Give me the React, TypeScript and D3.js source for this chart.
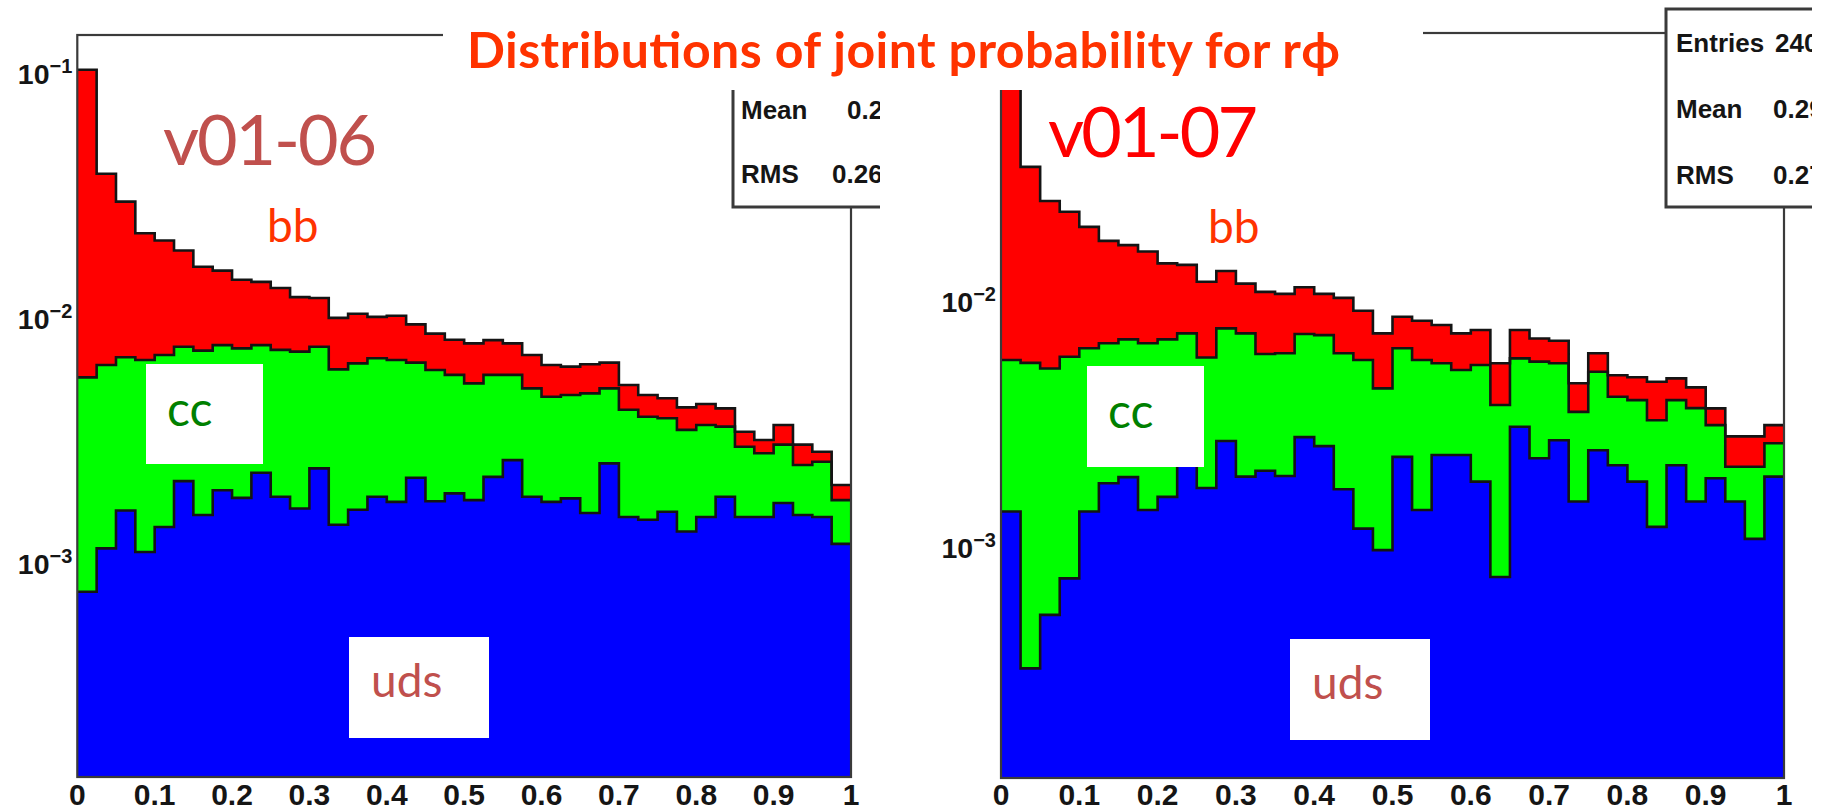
import React from "react";
import * as d3 from "d3";

const NBINS = 40;

// x axis ticks
const xTickValues = [0, 0.1, 0.2, 0.3, 0.4, 0.5, 0.6, 0.7, 0.8, 0.9, 1];
const xTickLabels = ["0", "0.1", "0.2", "0.3", "0.4", "0.5", "0.6", "0.7", "0.8", "0.9", "1"];

// y axis ticks (powers of ten) per panel
const leftYTickExps = [-1, -2, -3];
const rightYTickExps = [-2, -3];

// ---- v01-06 (left): stacked levels ----
// uds only
const leftUds = [0.000778, 0.00117, 0.00167, 0.00113, 0.00143, 0.0022, 0.0016, 0.00202, 0.00188, 0.00238,
  0.0019, 0.0017, 0.00248, 0.00146, 0.00168, 0.0019, 0.00181, 0.00227, 0.00182, 0.00196,
  0.00184, 0.00229, 0.00268, 0.0019, 0.00181, 0.00187, 0.00163, 0.0026, 0.00157, 0.00153,
  0.00165, 0.00137, 0.00157, 0.0019, 0.00157, 0.00157, 0.00179, 0.0016, 0.00157, 0.00122];
// uds + cc
const leftUdsCc = [0.00583, 0.00655, 0.00705, 0.00687, 0.0072, 0.00778, 0.0075, 0.0079, 0.00766, 0.0079,
  0.00755, 0.00743, 0.00778, 0.00629, 0.00665, 0.00698, 0.00687, 0.0067, 0.00625, 0.00597,
  0.00551, 0.00597, 0.00597, 0.00526, 0.00486, 0.00494, 0.00502, 0.00526, 0.0043, 0.00403,
  0.00397, 0.00356, 0.00373, 0.00367, 0.00304, 0.00286, 0.0031, 0.00256, 0.00264, 0.00184];
// uds + cc + bb
const leftAll = [0.105, 0.0395, 0.0304, 0.0226, 0.0211, 0.0192, 0.0165, 0.0159, 0.0146, 0.0143,
  0.0135, 0.0124, 0.0123, 0.0102, 0.0106, 0.0103, 0.0104, 0.0096, 0.0088, 0.0083,
  0.00803, 0.00828, 0.00803, 0.0072, 0.00655, 0.00645, 0.0066, 0.0067, 0.00543, 0.00494,
  0.00479, 0.0044, 0.00454, 0.00436, 0.0035, 0.00324, 0.00373, 0.0031, 0.0029, 0.00212];

// ---- v01-07 (right): stacked levels ----
const rightUds = [0.00142, 0.000327, 0.00054, 0.00076, 0.00142, 0.00185, 0.00196, 0.00144, 0.00163, 0.00226,
  0.00177, 0.00275, 0.00197, 0.00208, 0.00198, 0.00285, 0.00262, 0.00175, 0.00121, 0.00099,
  0.00237, 0.00144, 0.00241, 0.00241, 0.00188, 0.00077, 0.00314, 0.00234, 0.00277, 0.00156,
  0.00252, 0.00219, 0.00188, 0.00123, 0.00219, 0.00156, 0.00194, 0.00156, 0.0011, 0.00197];
const rightUdsCc = [0.00587, 0.00571, 0.00542, 0.00605, 0.00655, 0.00686, 0.00712, 0.00686, 0.00712, 0.00753,
  0.00601, 0.00789, 0.00753, 0.00621, 0.00625, 0.00749, 0.00741, 0.00625, 0.00587, 0.0045,
  0.00655, 0.00587, 0.00569, 0.00534, 0.0056, 0.00385, 0.00596, 0.00578, 0.00569, 0.00361,
  0.00526, 0.00416, 0.00403, 0.00334, 0.00403, 0.00374, 0.00319, 0.00216, 0.00216, 0.00269];
const rightAll = [0.1, 0.0358, 0.026, 0.0235, 0.0204, 0.0179, 0.0172, 0.0162, 0.0145, 0.0143,
  0.0122, 0.0135, 0.012, 0.0111, 0.0109, 0.0116, 0.0109, 0.0105, 0.0093, 0.00753,
  0.0088, 0.00847, 0.00814, 0.00753, 0.00777, 0.00569, 0.00777, 0.00718, 0.00703, 0.00472,
  0.00625, 0.00509, 0.00499, 0.00479, 0.00494, 0.00454, 0.00373, 0.00287, 0.00287, 0.00319];

// stat box texts
const leftStatNames = ["Mean", "RMS"];
const leftStatValues = ["0.2", "0.26"];
const rightStatNames = ["Entries", "Mean", "RMS"];
const rightStatValues = ["240", "0.29", "0.27"];

const TITLE = "Distributions of joint probability for r\u03D5";

const COLORS = { bb: "#ff0000", cc: "#00ff00", uds: "#0000ff" };
const ANNOT_FONT = "Lato, 'Open Sans', 'Noto Sans', sans-serif";
const AXIS_FONT = "'Liberation Sans', Arial, Helvetica, sans-serif";

type PanelCfg = {
  id: string;
  x0: number; x1: number; yTop: number; yBottom: number;
  logMin: number; logMax: number;
  uds: number[]; udsCc: number[]; all: number[];
  yExps: number[];
};

const panels: PanelCfg[] = [
  { id: "L", x0: 77.3, x1: 851, yTop: 35, yBottom: 777, logMin: -3.865, logMax: -0.837,
    uds: leftUds, udsCc: leftUdsCc, all: leftAll, yExps: leftYTickExps },
  { id: "R", x0: 1001, x1: 1784, yTop: 33, yBottom: 778, logMin: -3.931, logMax: -0.902,
    uds: rightUds, udsCc: rightUdsCc, all: rightAll, yExps: rightYTickExps },
];

function Panel({ p }: { p: PanelCfg }) {
  const x = d3.scaleLinear().domain([0, 1]).range([p.x0, p.x1]);
  const y = d3.scaleLog().domain([Math.pow(10, p.logMin), Math.pow(10, p.logMax)]).range([p.yBottom, p.yTop]);
  const toPts = (vals: number[]) => {
    const pts: [number, number][] = vals.map((v, i) => [i / NBINS, v]);
    pts.push([1, vals[vals.length - 1]]);
    return pts;
  };
  const area = d3.area<[number, number]>()
    .x((d) => x(d[0]))
    .y0(p.yBottom)
    .y1((d) => y(d[1]))
    .curve(d3.curveStepAfter);
  const line = d3.line<[number, number]>()
    .x((d) => x(d[0]))
    .y((d) => y(d[1]))
    .curve(d3.curveStepAfter);
  const layers = [
    { vals: p.all, color: COLORS.bb },
    { vals: p.udsCc, color: COLORS.cc },
    { vals: p.uds, color: COLORS.uds },
  ];
  const clipId = `clip${p.id}`;
  return (
    <g>
      <defs>
        <clipPath id={clipId}>
          <rect x={p.x0} y={p.yTop} width={p.x1 - p.x0} height={p.yBottom - p.yTop} />
        </clipPath>
      </defs>
      <g clipPath={`url(#${clipId})`}>
        {layers.map((l, i) => (
          <path key={"a" + i} d={area(toPts(l.vals)) || ""} fill={l.color} stroke="none" />
        ))}
        {layers.map((l, i) => (
          <path key={"l" + i} d={line(toPts(l.vals)) || ""} fill="none" stroke="#141414" strokeWidth={2.6} />
        ))}
      </g>
      <rect x={p.x0} y={p.yTop} width={p.x1 - p.x0} height={p.yBottom - p.yTop}
        fill="none" stroke="#3a3a3a" strokeWidth={2.2} />
      {xTickValues.map((t, i) => (
        <text key={"xt" + i} x={x(t)} y={805} textAnchor="middle" fontFamily={AXIS_FONT}
          fontWeight="bold" fontSize={30} fill="#151515">{xTickLabels[i]}</text>
      ))}
      {p.yExps.map((e) => (
        <text key={"yt" + e} x={p.x0 - 5} y={y(Math.pow(10, e)) + 9} textAnchor="end"
          fontFamily={AXIS_FONT} fontWeight="bold" fontSize={28.5} fill="#151515">
          10<tspan dy={-11} fontSize={20}>{"\u2212" + Math.abs(e)}</tspan>
        </text>
      ))}
    </g>
  );
}

function StatBox({ x, y, w, h, clipRight, names, values, rowYs, nameX, valueXs, id }:
  { x: number; y: number; w: number; h: number; clipRight: number; names: string[]; values: string[];
    rowYs: number[]; nameX: number; valueXs: number[]; id: string }) {
  return (
    <g>
      <defs>
        <clipPath id={id}>
          <rect x={0} y={0} width={clipRight} height={811} />
        </clipPath>
      </defs>
      <g clipPath={`url(#${id})`}>
        <rect x={x} y={y} width={w} height={h} fill="#ffffff" stroke="#3a3a3a" strokeWidth={3} />
        {names.map((n, i) => (
          <g key={i}>
            <text x={nameX} y={rowYs[i]} fontFamily={AXIS_FONT} fontWeight="bold" fontSize={26} fill="#151515">{n}</text>
            <text x={valueXs[i]} y={rowYs[i]} fontFamily={AXIS_FONT} fontWeight="bold" fontSize={26} fill="#151515">{values[i]}</text>
          </g>
        ))}
      </g>
    </g>
  );
}

export default function App() {
  return (
    <svg width={1825} height={811} viewBox="0 0 1825 811"
      style={{ position: "absolute", left: 0, top: 0, background: "#ffffff" }}>
      <rect x={0} y={0} width={1825} height={811} fill="#ffffff" />
      {panels.map((p) => <Panel key={p.id} p={p} />)}

      <StatBox id="sbL" x={733} y={20} w={220} h={187} clipRight={880}
        names={leftStatNames} values={leftStatValues} rowYs={[119, 183]} nameX={741} valueXs={[847, 832]} />
      <StatBox id="sbR" x={1666} y={9} w={220} h={198} clipRight={1812}
        names={rightStatNames} values={rightStatValues} rowYs={[52, 118, 184]} nameX={1676} valueXs={[1775, 1773, 1773]} />

      {/* title band */}
      <rect x={443} y={0} width={980} height={90} fill="#ffffff" />
      <text x={467} y={68} fontFamily={ANNOT_FONT} fontWeight="bold" fontSize={50} fill="#ff3300"
        textLength={873}>{TITLE}</text>

      {/* version labels */}
      <text x={163} y={165} fontFamily={ANNOT_FONT} fontSize={70} fill="#c0504d" textLength={214}>v01-06</text>
      <text x={1048} y={157} fontFamily={ANNOT_FONT} fontSize={70} fill="#ff0000" textLength={210}>v01-07</text>

      {/* bb labels */}
      <text x={267} y={242} fontFamily={ANNOT_FONT} fontSize={46} fill="#ff3300">bb</text>
      <text x={1208} y={243} fontFamily={ANNOT_FONT} fontSize={46} fill="#ff3300">bb</text>

      {/* cc labels */}
      <rect x={146} y={364} width={117} height={100} fill="#ffffff" />
      <text x={167} y={426} fontFamily={ANNOT_FONT} fontSize={48} fill="#008000">cc</text>
      <rect x={1087} y={366} width={117} height={101} fill="#ffffff" />
      <text x={1108} y={428} fontFamily={ANNOT_FONT} fontSize={48} fill="#008000">cc</text>

      {/* uds labels */}
      <rect x={349} y={637} width={140} height={101} fill="#ffffff" />
      <text x={371} y={697} fontFamily={ANNOT_FONT} fontSize={46} fill="#c0504d">uds</text>
      <rect x={1290} y={639} width={140} height={101} fill="#ffffff" />
      <text x={1312} y={699} fontFamily={ANNOT_FONT} fontSize={46} fill="#c0504d">uds</text>
    </svg>
  );
}
